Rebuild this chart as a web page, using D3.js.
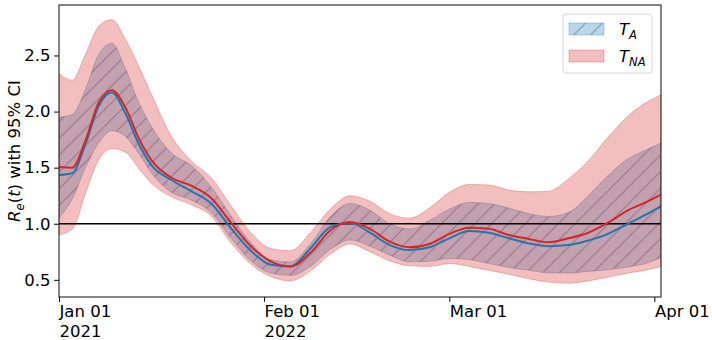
<!DOCTYPE html>
<html>
<head>
<meta charset="utf-8">
<script src="https://cdn.jsdelivr.net/npm/d3@7"></script>
<style>
  html, body { margin: 0; padding: 0; background: #fff; }
  svg { display: block; font-family: "DejaVu Sans", sans-serif; }
</style>
</head>
<body>
<svg id="chart" width="712" height="340"></svg>
<script>
// days since Jan 01 (x axis)
const days = [0, 2, 4, 6, 8, 10, 12, 14, 17, 20, 23, 26, 29, 32, 35, 38, 41, 44, 47, 50, 53, 56, 59, 62, 65, 68, 71, 74, 77, 80, 83, 86, 89, 91]

// T_NA : mean + 95% CI
const naMean = [1.505, 1.50, 1.74, 2.08, 2.19, 2.04, 1.77, 1.565, 1.41, 1.34, 1.23, 1.01, 0.80, 0.665, 0.62, 0.74, 0.94, 1.015, 0.955, 0.84, 0.79, 0.82, 0.91, 0.965, 0.955, 0.90, 0.865, 0.835, 0.87, 0.92, 1.01, 1.12, 1.20, 1.26]
const naLow = [0.90, 0.95, 1.27, 1.57, 1.67, 1.64, 1.50, 1.36, 1.24, 1.17, 1.07, 0.83, 0.64, 0.53, 0.49, 0.58, 0.73, 0.82, 0.75, 0.67, 0.625, 0.62, 0.645, 0.62, 0.585, 0.55, 0.51, 0.48, 0.47, 0.49, 0.525, 0.56, 0.59, 0.62]
const naHigh = [2.34, 2.28, 2.51, 2.76, 2.82, 2.65, 2.41, 2.15, 1.78, 1.56, 1.41, 1.16, 0.92, 0.78, 0.76, 0.92, 1.13, 1.25, 1.20, 1.09, 1.05, 1.14, 1.28, 1.35, 1.345, 1.30, 1.285, 1.29, 1.40, 1.56, 1.77, 1.96, 2.09, 2.15]

// T_A : mean + 95% CI
const aMean = [1.435, 1.45, 1.71, 2.05, 2.17, 1.99, 1.72, 1.52, 1.39, 1.29, 1.18, 0.96, 0.76, 0.635, 0.62, 0.78, 0.97, 1.01, 0.92, 0.81, 0.765, 0.79, 0.87, 0.935, 0.92, 0.87, 0.825, 0.80, 0.81, 0.85, 0.91, 1.00, 1.09, 1.155]
const aLow = [1.05, 1.22, 1.50, 1.72, 1.83, 1.78, 1.63, 1.45, 1.28, 1.21, 1.10, 0.87, 0.67, 0.56, 0.54, 0.62, 0.77, 0.855, 0.80, 0.72, 0.66, 0.665, 0.69, 0.68, 0.645, 0.61, 0.585, 0.562, 0.56, 0.575, 0.59, 0.615, 0.65, 0.70]
const aHigh = [1.95, 1.975, 2.20, 2.51, 2.61, 2.39, 2.09, 1.865, 1.63, 1.52, 1.33, 1.07, 0.83, 0.68, 0.66, 0.82, 1.06, 1.18, 1.12, 1.00, 0.955, 1.03, 1.13, 1.19, 1.18, 1.14, 1.09, 1.065, 1.10, 1.25, 1.43, 1.58, 1.665, 1.72]

const xTickDays = [0, 31, 59, 90]
const xTickLabels = [["Jan 01", "2021"], ["Feb 01", "2022"], ["Mar 01"], ["Apr 01"]]
const yTicks = [0.5, 1.0, 1.5, 2.0, 2.5]

const m = {top: 5, right: 51, bottom: 43, left: 59}
const width = 712, height = 340
const iw = width - m.left - m.right
const ih = height - m.top - m.bottom

const blue = "#1f77b4", red = "#d62728"

const x = d3.scaleLinear().domain([0, 91]).range([0, iw])
const y = d3.scaleLinear().domain([0.347, 2.95]).range([ih, 0])

const svg = d3.select("#chart")

// hatch pattern for T_A band
const defs = svg.append("defs")
const hs = 16.7
defs.append("pattern")
  .attr("id", "hatch")
  .attr("patternUnits", "userSpaceOnUse")
  .attr("width", hs).attr("height", hs)
  .append("path")
  .attr("d", `M0,${hs} L${hs},0 M${-hs / 2},${hs / 2} L${hs / 2},${-hs / 2} M${hs / 2},${hs * 1.5} L${hs * 1.5},${hs / 2}`)
  .attr("stroke", "#3b5f8a")
  .attr("stroke-opacity", 0.55)
  .attr("stroke-width", 1)

defs.append("clipPath").attr("id", "plotclip")
  .append("rect").attr("width", iw).attr("height", ih)

const g = svg.append("g").attr("transform", `translate(${m.left},${m.top})`)
const plot = g.append("g").attr("clip-path", "url(#plotclip)")

const rows = days.map((d, i) => ({d, naMean: naMean[i], naLow: naLow[i], naHigh: naHigh[i], aMean: aMean[i], aLow: aLow[i], aHigh: aHigh[i]}))

const band = (lo, hi) => d3.area()
  .x((r) => x(r.d))
  .y0((r) => y(r[lo]))
  .y1((r) => y(r[hi]))
  .curve(d3.curveMonotoneX)

const line = (k) => d3.line()
  .x((r) => x(r.d))
  .y((r) => y(r[k]))
  .curve(d3.curveMonotoneX)

// T_A band with hatch
plot.append("path").datum(rows).attr("d", band("aLow", "aHigh"))
  .attr("fill", blue).attr("fill-opacity", 0.3)
  .attr("stroke", blue).attr("stroke-opacity", 0.3).attr("stroke-width", 1)
plot.append("path").datum(rows).attr("d", band("aLow", "aHigh"))
  .attr("fill", "url(#hatch)")

// T_NA band
plot.append("path").datum(rows).attr("d", band("naLow", "naHigh"))
  .attr("fill", red).attr("fill-opacity", 0.3)
  .attr("stroke", red).attr("stroke-opacity", 0.3).attr("stroke-width", 1)

// reference line at 1
plot.append("line")
  .attr("x1", 0).attr("x2", iw)
  .attr("y1", y(1)).attr("y2", y(1))
  .attr("stroke", "#000").attr("stroke-width", 1.5)

plot.append("path").datum(rows).attr("d", line("aMean"))
  .attr("fill", "none").attr("stroke", blue).attr("stroke-width", 2)
plot.append("path").datum(rows).attr("d", line("naMean"))
  .attr("fill", "none").attr("stroke", red).attr("stroke-width", 2)

// axes
const fs = 16.5

const yAxis = g.append("g")
  .call(d3.axisLeft(y).tickValues(yTicks).tickFormat(d3.format(".1f")).tickSize(4.9).tickPadding(3.5).tickSizeOuter(0))
yAxis.select(".domain").remove()
yAxis.selectAll("text").attr("font-size", fs).attr("font-family", "DejaVu Sans").attr("fill", "#000")
yAxis.selectAll("line").attr("stroke", "#000").attr("stroke-width", 1)

const xAxis = g.append("g").attr("transform", `translate(0,${ih})`)
  .call(d3.axisBottom(x).tickValues(xTickDays).tickFormat(() => "").tickSize(4.9).tickSizeOuter(0))
xAxis.select(".domain").remove()
xAxis.selectAll("line").attr("stroke", "#000").attr("stroke-width", 1)
xAxis.selectAll(".tick").each(function (d, i) {
  const t = d3.select(this).append("text")
    .attr("fill", "#000")
    .attr("font-size", fs)
    .attr("font-family", "DejaVu Sans")
    .attr("text-anchor", "start")
    .attr("x", 0)
  xTickLabels[i].forEach((s, j) => {
    t.append("tspan").attr("x", 0).attr("y", 20 + j * 19.5).text(s)
  })
})

// frame
g.append("rect")
  .attr("width", iw).attr("height", ih)
  .attr("fill", "none").attr("stroke", "#222").attr("stroke-width", 1.1)

// y label
const yl = svg.append("text")
  .attr("transform", `translate(20,${m.top + ih / 2}) rotate(-90)`)
  .attr("text-anchor", "middle")
  .attr("font-size", fs)
  .attr("fill", "#000")
yl.append("tspan").attr("font-style", "italic").text("R")
yl.append("tspan").attr("font-style", "italic").attr("font-size", fs * 0.7).attr("dy", 3.5).text("e")
yl.append("tspan").attr("dy", -3.5).text("(")
yl.append("tspan").attr("font-style", "italic").text("t")
yl.append("tspan").text(") with 95% CI")

// legend
const lg = g.append("g").attr("transform", `translate(${563 - m.left},${14 - m.top})`)
lg.append("rect")
  .attr("width", 89).attr("height", 59).attr("rx", 3)
  .attr("fill", "#fff").attr("fill-opacity", 0.8)
  .attr("stroke", "#d6d6d6").attr("stroke-width", 1)

const legendItems = [
  {main: "T", sub: "A", color: blue, hatch: true},
  {main: "T", sub: "NA", color: red, hatch: false},
]
legendItems.forEach((it, i) => {
  const row = lg.append("g").attr("transform", `translate(6,${9 + i * 27})`)
  row.append("rect").attr("width", 35).attr("height", 12)
    .attr("fill", it.color).attr("fill-opacity", 0.3)
    .attr("stroke", it.color).attr("stroke-opacity", 0.3)
  if (it.hatch) {
    row.append("rect").attr("width", 35).attr("height", 12).attr("fill", "url(#hatch)")
  }
  const t = row.append("text").attr("x", 50).attr("y", 12)
    .attr("font-size", fs).attr("fill", "#000")
  t.append("tspan").attr("font-style", "italic").text(it.main)
  t.append("tspan").attr("font-style", "italic").attr("font-size", fs * 0.7).attr("dy", 3.5).text(it.sub)
})
</script>
</body>
</html>
